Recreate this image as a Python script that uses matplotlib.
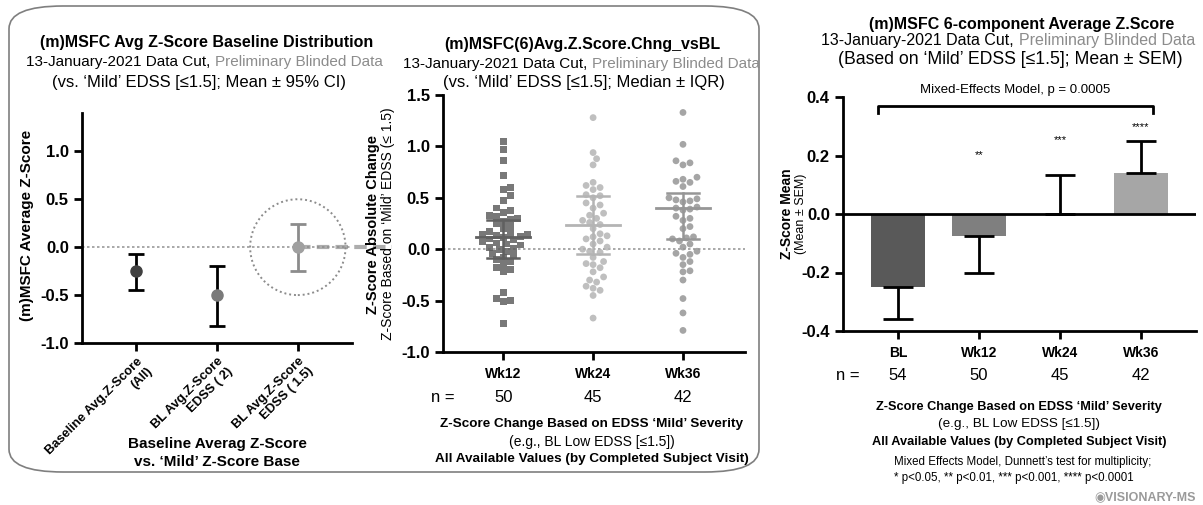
import numpy as np
import matplotlib
matplotlib.use('Agg')
import matplotlib.pyplot as plt
from matplotlib.patches import FancyBboxPatch, Ellipse

plt.rcParams['font.family'] = ['Liberation Sans', 'DejaVu Sans']

W, H = 1203, 505

# left panel: baseline mean +/- 95% CI
bl_cats = ['Baseline Avg.Z-Score\n(All)', 'BL Avg.Z-Score\nEDSS ( 2)', 'BL Avg.Z-Score\nEDSS ( 1.5)']
bl_mean = [-0.25, -0.50, 0.0]
bl_lo = [-0.45, -0.82, -0.25]
bl_hi = [-0.07, -0.20, 0.24]

# middle panel: change vs BL, individual values
wk_cats = ['Wk12', 'Wk24', 'Wk36']
wk_n = [50, 45, 42]
wk12 = [1.05, 0.97, 0.86, 0.72, 0.60, 0.58, 0.52, 0.47, 0.40, 0.38, 0.36, 0.33, 0.32,
        0.30, 0.29, 0.27, 0.25, 0.22, 0.20, 0.17, 0.15, 0.14, 0.14, 0.13, 0.12, 0.11,
        0.10, 0.09, 0.07, 0.06, 0.05, 0.04, 0.02, 0.01, 0.00, -0.02, -0.04, -0.06,
        -0.08, -0.10, -0.12, -0.15, -0.18, -0.20, -0.22, -0.42, -0.48, -0.50, -0.51, -0.72]
wk24 = [1.28, 0.94, 0.88, 0.82, 0.65, 0.62, 0.60, 0.58, 0.53, 0.52, 0.50, 0.45, 0.43,
        0.40, 0.35, 0.33, 0.30, 0.28, 0.26, 0.24, 0.20, 0.15, 0.13, 0.12, 0.10, 0.08,
        0.05, 0.02, 0.00, -0.02, -0.03, -0.08, -0.12, -0.14, -0.15, -0.18, -0.22,
        -0.27, -0.30, -0.32, -0.36, -0.38, -0.40, -0.45, -0.67]
wk36 = [1.33, 1.02, 0.86, 0.84, 0.82, 0.70, 0.68, 0.66, 0.65, 0.61, 0.50, 0.49, 0.48,
        0.47, 0.46, 0.41, 0.40, 0.39, 0.38, 0.32, 0.30, 0.28, 0.22, 0.20, 0.12, 0.11,
        0.10, 0.08, 0.05, 0.02, -0.02, -0.04, -0.05, -0.08, -0.12, -0.15, -0.21, -0.22,
        -0.30, -0.48, -0.62, -0.79]
wk_med = [0.12, 0.24, 0.40]
wk_q1 = [-0.09, -0.05, 0.10]
wk_q3 = [0.28, 0.52, 0.55]

# right panel: mean +/- SEM
bar_cats = ['BL', 'Wk12', 'Wk24', 'Wk36']
bar_n = [54, 50, 45, 42]
bar_mean = [-0.25, -0.075, 0.0, 0.14]
bar_sem = [0.11, 0.128, 0.133, 0.11]
bar_stars = ['', '**', '***', '****']
star_y = [0, 0.185, 0.235, 0.28]


def rect(l, t, r, b):
    return [l / W, 1 - b / H, (r - l) / W, (b - t) / H]


def ftext(x, y, s, **kw):
    return fig.text(x / W, 1 - y / H, s, **kw)


def two_tone(split, y, a, b, size=11):
    ftext(split - 2, y, a, ha='right', va='center', fontsize=size)
    ftext(split + 3, y, b, ha='left', va='center', fontsize=size, color='#8c8c8c')


def style(ax):
    for s in ['top', 'right']:
        ax.spines[s].set_visible(False)
    for s in ['left', 'bottom']:
        ax.spines[s].set_linewidth(2)
    ax.tick_params(width=2, length=6)
    ax.tick_params(axis='x', pad=5)
    for lb in ax.get_yticklabels():
        lb.set_fontweight('bold')
        lb.set_fontsize(12)


def swarm(vals, ypx, xpx, d):
    offs = np.zeros(len(vals))
    placed = []
    for i in np.argsort(vals):
        y = vals[i] * ypx
        k = 0
        while True:
            for cand in ([0] if k == 0 else [k * d * 0.5, -k * d * 0.5]):
                if all((cand - px) ** 2 + (y - py) ** 2 >= d * d for px, py in placed):
                    offs[i] = cand
                    placed.append((cand, y))
                    break
            else:
                k += 1
                continue
            break
    return offs / xpx


fig = plt.figure(figsize=(W / 100, H / 100), dpi=100)

frame = FancyBboxPatch((9 / W, 1 - 472 / H), 750 / W, 466 / H,
                       boxstyle='round,pad=0,rounding_size=0.045',
                       transform=fig.transFigure, fill=False, ec='#7f7f7f', lw=1.2)
fig.patches.append(frame)

# ---------------- left
ax1 = fig.add_axes(rect(82, 113, 352, 343))
ax1.set_xlim(-0.67, 2.67)
ax1.set_ylim(-1.0, 1.4)
ax1.set_yticks([-1.0, -0.5, 0.0, 0.5, 1.0])
ax1.set_yticklabels(['%.1f' % v for v in [-1.0, -0.5, 0.0, 0.5, 1.0]])
ax1.axhline(0, color='#999999', lw=1.2, ls=(0, (1.5, 1.5)), zorder=0)
ax1.plot([2, 3.16], [0, 0], color='#8a8a8a', lw=3, ls=(0, (3, 1.5)), alpha=0.7,
         clip_on=False, zorder=1)
ax1.add_patch(Ellipse((2, 0), 1.18, 1.0, fill=False, ec='#8c8c8c', lw=1.4,
                      ls=(0, (1, 1.5)), clip_on=False))
pt_cols = ['#404040', '#7a7a7a', '#a0a0a0']
bar_cols_l = ['black', 'black', '#8c8c8c']
for i in range(3):
    ax1.errorbar(i, bl_mean[i], yerr=[[bl_mean[i] - bl_lo[i]], [bl_hi[i] - bl_mean[i]]],
                 fmt='o', color=pt_cols[i], ms=8, ecolor=bar_cols_l[i], elinewidth=2,
                 capsize=6, capthick=2, zorder=3)
ax1.set_xticks(range(3))
ax1.set_xticklabels(bl_cats, rotation=45, ha='right', rotation_mode='anchor',
                    fontweight='bold', fontsize=9.3, ma='right')
style(ax1)
ax1.tick_params(axis='x', pad=3)
ftext(27, 225, '(m)MSFC Average Z-Score', rotation=90, ha='center', va='center',
      fontweight='bold', fontsize=11)

ftext(207, 43, '(m)MSFC Avg Z-Score Baseline Distribution', ha='center', va='center',
      fontsize=11.5, fontweight='bold')
two_tone(212, 62, '13-January-2021 Data Cut,', 'Preliminary Blinded Data')
ftext(199, 82, '(vs. \u2018Mild\u2019 EDSS [\u22641.5]; Mean \u00b1 95% CI)', ha='center',
      va='center', fontsize=12)
ftext(217, 444, 'Baseline Averag Z-Score', ha='center', va='center', fontsize=11,
      fontweight='bold')
ftext(217, 462, 'vs. \u2018Mild\u2019 Z-Score Base', ha='center', va='center', fontsize=11,
      fontweight='bold')

# ---------------- middle
ax2 = fig.add_axes(rect(443, 95, 745, 352))
ax2.set_xlim(-0.67, 2.69)
ax2.set_ylim(-1.0, 1.5)
ax2.set_yticks([-1.0, -0.5, 0.0, 0.5, 1.0, 1.5])
ax2.set_yticklabels(['%.1f' % v for v in [-1.0, -0.5, 0.0, 0.5, 1.0, 1.5]])
ax2.axhline(0, color='#999999', lw=1.2, ls=(0, (1.5, 1.5)), zorder=0)
sc_cols = ['#606060', '#b4b4b4', '#969696']
markers = ['s', 'o', 'o']
for i, vals in enumerate([wk12, wk24, wk36]):
    v = np.array(vals)
    xo = swarm(v, 103.0, 90.0, 7.0)
    ax2.scatter(i + xo, v, s=24, marker=markers[i], color=sc_cols[i], alpha=0.85,
                edgecolors='none', zorder=2)
    ax2.plot([i - 0.3, i + 0.3], [wk_med[i]] * 2, color=sc_cols[i], lw=2, zorder=3)
    ax2.plot([i, i], [wk_q1[i], wk_q3[i]], color=sc_cols[i], lw=1.8, zorder=3)
    for q in (wk_q1[i], wk_q3[i]):
        ax2.plot([i - 0.18, i + 0.18], [q, q], color=sc_cols[i], lw=1.8, zorder=3)
ax2.set_xticks(range(3))
ax2.set_xticklabels(wk_cats, fontweight='bold', fontsize=10)
style(ax2)
ftext(373, 224, 'Z-Score Absolute Change', rotation=90, ha='center', va='center',
      fontsize=10.5, fontweight='bold')
ftext(388, 224, 'Z-Score Based on \u2018Mild\u2019 EDSS (\u2264 1.5)', rotation=90, ha='center',
      va='center', fontsize=10)
ftext(443, 398, 'n =', ha='center', va='center', fontsize=12)
for i, n in enumerate(wk_n):
    ax2.text(i, 1 - (398 - 95) / (352 - 95), str(n), transform=ax2.get_xaxis_transform(),
             ha='center', va='center', fontsize=12)

ftext(582, 45, '(m)MSFC(6)Avg.Z.Score.Chng_vsBL', ha='center', va='center', fontsize=11.5,
      fontweight='bold')
two_tone(589, 64, '13-January-2021 Data Cut,', 'Preliminary Blinded Data')
ftext(584, 83, '(vs. \u2018Mild\u2019 EDSS [\u22641.5]; Median \u00b1 IQR)', ha='center',
      va='center', fontsize=12)
ftext(592, 424, 'Z-Score Change Based on EDSS \u2018Mild\u2019 Severity', ha='center',
      va='center', fontsize=9.7, fontweight='bold')
ftext(592, 442, '(e.g., BL Low EDSS [\u22641.5])', ha='center', va='center', fontsize=10)
ftext(592, 459, 'All Available Values (by Completed Subject Visit)', ha='center',
      va='center', fontsize=9.7, fontweight='bold')

# ---------------- right
ax3 = fig.add_axes(rect(843, 97, 1196, 331))
ax3.set_xlim(-0.68, 3.68)
ax3.set_ylim(-0.4, 0.4)
x = np.arange(len(bar_cats))
cols = ['#595959', '#7f7f7f', '#ffffff', '#a6a6a6']
ax3.bar(x, bar_mean, width=0.66, color=cols, zorder=2)
lo = [s if m < 0 else 0 for m, s in zip(bar_mean, bar_sem)]
hi = [s if m >= 0 else 0 for m, s in zip(bar_mean, bar_sem)]
ax3.errorbar(x, bar_mean, yerr=[lo, hi], fmt='none', ecolor='black', elinewidth=2,
             capsize=11, capthick=2, zorder=3)
ax3.axhline(0, color='black', lw=2, zorder=4)
for i, s in enumerate(bar_stars):
    if s:
        ax3.text(i, star_y[i], s, ha='center', va='bottom', fontsize=8)
ax3.plot([-0.25, -0.25, 3.15, 3.15], [0.345, 0.37, 0.37, 0.345], color='black', lw=2,
         clip_on=False)
ax3.text(1.45, 0.425, 'Mixed-Effects Model, p = 0.0005', ha='center', va='center',
         fontsize=9.5)
ax3.set_yticks([-0.4, -0.2, 0.0, 0.2, 0.4])
ax3.set_yticklabels(['%.1f' % v for v in [-0.4, -0.2, 0.0, 0.2, 0.4]])
ax3.set_xticks(x)
ax3.set_xticklabels(bar_cats, fontweight='bold', fontsize=10)
style(ax3)
ftext(787, 214, 'Z-Score Mean', rotation=90, ha='center', va='center', fontsize=10,
      fontweight='bold')
ftext(801, 214, '(Mean \u00b1 SEM)', rotation=90, ha='center', va='center', fontsize=9)
ftext(848, 375, 'n =', ha='center', va='center', fontsize=12)
for i, n in enumerate(bar_n):
    ax3.text(i, 1 - (375 - 97) / (331 - 97), str(n), transform=ax3.get_xaxis_transform(),
             ha='center', va='center', fontsize=12)

ftext(1022, 25, '(m)MSFC 6-component Average Z.Score', ha='center', va='center',
      fontsize=11.5, fontweight='bold')
two_tone(1016, 41, '13-January-2021 Data Cut,', 'Preliminary Blinded Data', size=11.5)
ftext(1010, 59, '(Based on \u2018Mild\u2019 EDSS [\u22641.5]; Mean \u00b1 SEM)', ha='center',
      va='center', fontsize=12.7)
ftext(1019, 407, 'Z-Score Change Based on EDSS \u2018Mild\u2019 Severity', ha='center',
      va='center', fontsize=9.2, fontweight='bold')
ftext(1019, 424, '(e.g., BL Low EDSS [\u22641.5])', ha='center', va='center', fontsize=9.7)
ftext(1019, 442, 'All Available Values (by Completed Subject Visit)', ha='center',
      va='center', fontsize=9.2, fontweight='bold')
ftext(894, 462, 'Mixed Effects Model, Dunnett\u2019s test for multiplicity;', ha='left',
      va='center', fontsize=8.3)
ftext(894, 478, '* p<0.05, ** p<0.01, *** p<0.001, **** p<0.0001', ha='left',
      va='center', fontsize=8.3)
ftext(1196, 497, '\u25c9VISIONARY-MS', ha='right', va='center', fontsize=9,
      color='#9a9a9a', fontweight='bold')

fig.savefig('out.png', dpi=100)
